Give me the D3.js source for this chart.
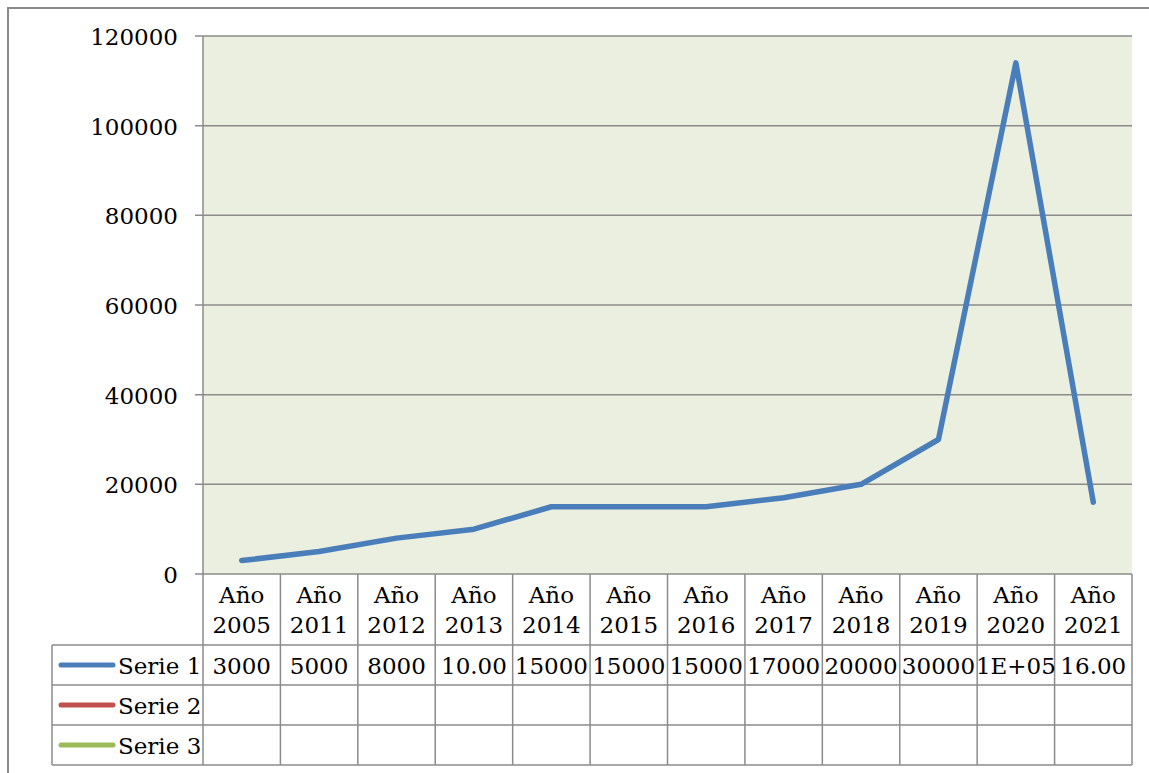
<!DOCTYPE html>
<html>
<head>
<meta charset="utf-8">
<script src="https://cdn.jsdelivr.net/npm/d3@7"></script>
<style>
  body { margin: 0; background: #fff; }
  text { font-family: "DejaVu Serif", serif; font-size: 23px; fill: #000; }
</style>
</head>
<body>
<div id="chart"></div>
<script>
// chart data
var years = ['2005', '2011', '2012', '2013', '2014', '2015', '2016', '2017', '2018', '2019', '2020', '2021'];
var serie1 = [3000, 5000, 8000, 10000, 15000, 15000, 15000, 17000, 20000, 30000, 114000, 16000];
var serie1Labels = ['3000', '5000', '8000', '10.00', '15000', '15000', '15000', '17000', '20000', '30000', '1E+05', '16.00'];
var seriesNames = ['Serie 1', 'Serie 2', 'Serie 3'];
var seriesColors = ['#4a7ebb', '#c0504d', '#9bbb59'];
var yTicks = [0, 20000, 40000, 60000, 80000, 100000, 120000];

var width = 1149, height = 773;
var plot = {left: 203, right: 1132, top: 36, bottom: 574};
var rowH = 40, headH = 71, legendLeft = 52;
var gridColor = '#8b8b8b';

var svg = d3.select('#chart').append('svg')
  .attr('width', width)
  .attr('height', height);

// outer chart border (right / bottom run off the picture)
svg.append('path')
  .attr('d', 'M8,' + height + 'V8H' + width)
  .attr('fill', 'none')
  .attr('stroke', '#8a8a8a')
  .attr('stroke-width', 2);

var x = d3.scaleBand().domain(years).range([plot.left, plot.right]);
var y = d3.scaleLinear().domain([0, 120000]).range([plot.bottom, plot.top]);

svg.append('rect')
  .attr('x', plot.left).attr('y', plot.top)
  .attr('width', plot.right - plot.left).attr('height', plot.bottom - plot.top)
  .attr('fill', '#eaefdf');

// gridlines
svg.selectAll('.grid').data(yTicks).enter().append('line')
  .attr('x1', plot.left - 8).attr('x2', plot.right)
  .attr('y1', function(d) { return y(d); })
  .attr('y2', function(d) { return y(d); })
  .attr('stroke', gridColor)
  .attr('stroke-width', 1.5);

svg.append('line')
  .attr('x1', plot.left).attr('x2', plot.left)
  .attr('y1', plot.top).attr('y2', plot.bottom)
  .attr('stroke', gridColor).attr('stroke-width', 1.5);

// y labels
svg.selectAll('.ylab').data(yTicks).enter().append('text')
  .attr('x', 178)
  .attr('y', function(d) { return y(d) + 9; })
  .attr('text-anchor', 'end')
  .text(function(d) { return d; });

// line
var line = d3.line()
  .x(function(d, i) { return x(years[i]) + x.bandwidth() / 2; })
  .y(function(d) { return y(d); });

svg.append('path')
  .datum(serie1)
  .attr('d', line)
  .attr('fill', 'none')
  .attr('stroke', seriesColors[0])
  .attr('stroke-width', 5.5)
  .attr('stroke-linejoin', 'round')
  .attr('stroke-linecap', 'round');

// data table
var tableTop = plot.bottom;
var rowsTop = tableTop + headH;
var tableBottom = rowsTop + rowH * seriesNames.length;
var tg = svg.append('g');

// vertical lines for columns
x.domain().concat(['end']).forEach(function(d, i) {
  var xx = i < years.length ? x(d) : plot.right;
  tg.append('line')
    .attr('x1', xx).attr('x2', xx)
    .attr('y1', tableTop).attr('y2', tableBottom)
    .attr('stroke', gridColor).attr('stroke-width', 1.5);
});
tg.append('line')
  .attr('x1', legendLeft).attr('x2', legendLeft)
  .attr('y1', rowsTop).attr('y2', tableBottom)
  .attr('stroke', gridColor).attr('stroke-width', 1.5);

// horizontal lines
for (var r = 0; r <= seriesNames.length; r++) {
  tg.append('line')
    .attr('x1', legendLeft).attr('x2', plot.right)
    .attr('y1', rowsTop + r * rowH).attr('y2', rowsTop + r * rowH)
    .attr('stroke', gridColor).attr('stroke-width', 1.5);
}

// header
years.forEach(function(yr) {
  var cx = x(yr) + x.bandwidth() / 2;
  tg.append('text').attr('x', cx).attr('y', tableTop + 29)
    .attr('text-anchor', 'middle').text('Año');
  tg.append('text').attr('x', cx).attr('y', tableTop + 59)
    .attr('text-anchor', 'middle').text(yr);
});

// legend keys
seriesNames.forEach(function(name, i) {
  var cy = rowsTop + i * rowH + rowH / 2;
  tg.append('line')
    .attr('x1', 61).attr('x2', 113)
    .attr('y1', cy).attr('y2', cy)
    .attr('stroke', seriesColors[i])
    .attr('stroke-width', 5)
    .attr('stroke-linecap', 'round');
  tg.append('text').attr('x', 118).attr('y', cy + 9).text(name);
});

// serie 1 values
serie1Labels.forEach(function(v, i) {
  tg.append('text')
    .attr('x', x(years[i]) + x.bandwidth() / 2)
    .attr('y', rowsTop + rowH / 2 + 9)
    .attr('text-anchor', 'middle')
    .text(v);
});
</script>
</body>
</html>
